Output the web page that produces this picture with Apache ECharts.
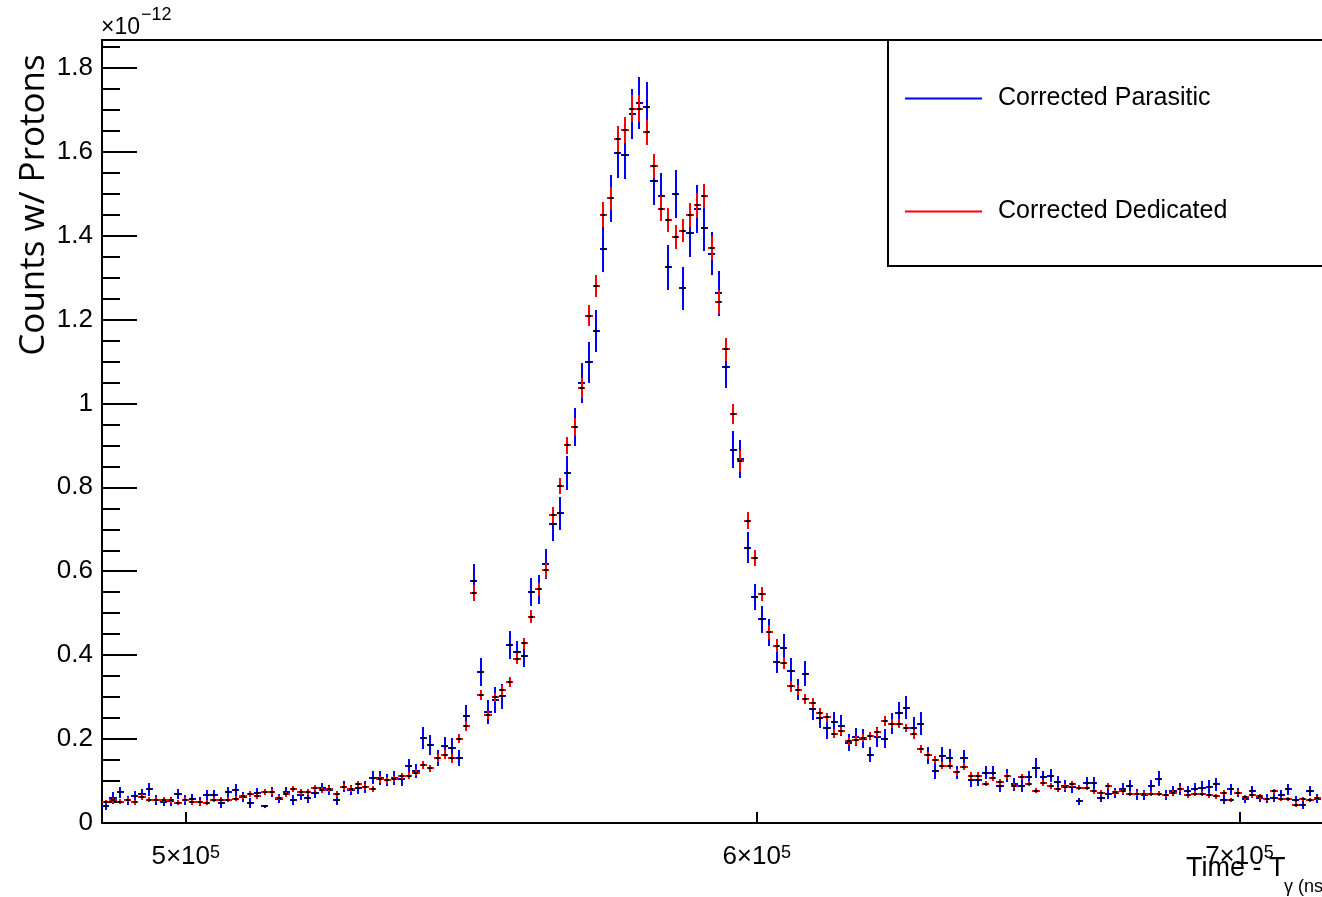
<!DOCTYPE html>
<html>
<head>
<meta charset="utf-8">
<script src="https://cdn.jsdelivr.net/npm/echarts@6/dist/echarts.min.js"></script>
<style>
  html, body { margin: 0; padding: 0; background: #fff; overflow: hidden; }
  #chart { width: 1322px; height: 897px; }
</style>
</head>
<body>
<div id="chart"></div>
<script>
// Histogram binning: logarithmic bins, 1000 per decade of time (ns)
const binWidthLog = 0.001;
const firstBinEdgeLog = 5.6874;

// Counts per proton, in units of 1e-12 (one entry per bin)
const parasitic = [
  0.040, 0.060, 0.073, 0.054, 0.064, 0.068, 0.080, 0.054, 0.050, 0.052,
  0.070, 0.055, 0.058, 0.051, 0.066, 0.066, 0.047, 0.073, 0.078, 0.062,
  0.048, 0.072, 0.040, 0.073, 0.058, 0.073, 0.055, 0.066, 0.060,
  0.072, 0.084, 0.078, 0.054, 0.086, 0.078, 0.084, 0.086, 0.108, 0.108,
  0.102, 0.108, 0.104, 0.135, 0.124, 0.203, 0.185, 0.155, 0.183, 0.179,
  0.154, 0.256,
  0.576, 0.360, 0.265, 0.293, 0.302, 0.424, 0.407, 0.397, 0.550, 0.557,
  0.618, 0.713, 0.738, 0.834, 0.944, 1.049, 1.098, 1.173, 1.367, 1.489,
  1.596,
  1.592, 1.690, 1.717, 1.706, 1.529, 1.494, 1.324, 1.499, 1.274, 1.406,
  1.464, 1.419, 1.357, 1.262, 1.087, 0.890, 0.868, 0.656, 0.538,
  0.485, 0.455, 0.384, 0.418, 0.363, 0.317, 0.356, 0.271, 0.251, 0.227,
  0.240, 0.232, 0.191, 0.205, 0.201, 0.163, 0.205, 0.201, 0.237, 0.263,
  0.275, 0.227, 0.237, 0.161, 0.124, 0.159, 0.155, 0.121, 0.155, 0.102,
  0.103, 0.120, 0.120, 0.089,
  0.113, 0.092, 0.088, 0.110, 0.132, 0.110, 0.113, 0.097, 0.088, 0.086,
  0.052, 0.096, 0.096, 0.060, 0.070, 0.072, 0.081, 0.089, 0.068, 0.066,
  0.089, 0.105, 0.066, 0.076, 0.081, 0.076, 0.081, 0.084, 0.086, 0.092,
  0.056, 0.080, 0.072, 0.057, 0.076, 0.060, 0.058, 0.060, 0.066, 0.080,
  0.054, 0.044, 0.076, 0.058
];
const parasiticErr = [
  0.010, 0.014, 0.013, 0.011, 0.012, 0.013, 0.016, 0.012, 0.010, 0.011,
  0.012, 0.011, 0.012, 0.011, 0.013, 0.013, 0.011, 0.013, 0.014, 0.011,
  0.012, 0.012, 0.004, 0.012, 0.011, 0.012, 0.012, 0.011, 0.012,
  0.012, 0.012, 0.012, 0.010, 0.013, 0.012, 0.014, 0.015, 0.016, 0.017,
  0.014, 0.017, 0.016, 0.017, 0.016, 0.026, 0.024, 0.020, 0.021, 0.023,
  0.019, 0.025,
  0.041, 0.033, 0.028, 0.030, 0.030, 0.033, 0.027, 0.026, 0.034, 0.035,
  0.036, 0.041, 0.039, 0.040, 0.045, 0.048, 0.049, 0.050, 0.053, 0.056,
  0.059,
  0.058, 0.060, 0.062, 0.061, 0.057, 0.055, 0.054, 0.058, 0.052, 0.057,
  0.057, 0.055, 0.052, 0.054, 0.050, 0.044, 0.045, 0.037, 0.031,
  0.032, 0.032, 0.026, 0.032, 0.030, 0.025, 0.030, 0.025, 0.024, 0.026,
  0.025, 0.025, 0.020, 0.022, 0.023, 0.018, 0.023, 0.023, 0.025, 0.025,
  0.027, 0.026, 0.028, 0.020, 0.019, 0.021, 0.021, 0.016, 0.020, 0.016,
  0.016, 0.016, 0.016, 0.014,
  0.015, 0.015, 0.015, 0.015, 0.024, 0.015, 0.015, 0.015, 0.015, 0.014,
  0.008, 0.014, 0.014, 0.011, 0.013, 0.012, 0.014, 0.014, 0.012, 0.012,
  0.014, 0.018, 0.012, 0.012, 0.014, 0.012, 0.015, 0.016, 0.016, 0.015,
  0.011, 0.014, 0.011, 0.010, 0.012, 0.010, 0.011, 0.010, 0.012, 0.013,
  0.011, 0.010, 0.012, 0.010
];
const dedicated = [
  0.050, 0.054, 0.051, 0.056, 0.050, 0.062, 0.056, 0.056, 0.056, 0.054,
  0.048, 0.056, 0.050, 0.050, 0.048, 0.056, 0.056, 0.056, 0.058, 0.064,
  0.070, 0.064, 0.073, 0.074, 0.060, 0.068, 0.081, 0.073, 0.074,
  0.084, 0.078, 0.080, 0.070, 0.086, 0.080, 0.092, 0.086, 0.082, 0.104,
  0.102, 0.105, 0.112, 0.113, 0.120, 0.138, 0.130, 0.155, 0.163, 0.154,
  0.201, 0.232,
  0.547, 0.305, 0.257, 0.300, 0.317, 0.336, 0.392, 0.428, 0.492, 0.557,
  0.602, 0.735, 0.803, 0.900, 0.944, 1.036, 1.209, 1.280, 1.450, 1.489,
  1.630,
  1.652, 1.702, 1.702, 1.646, 1.566, 1.464, 1.437, 1.397, 1.412, 1.449,
  1.472, 1.494, 1.371, 1.241, 1.129, 0.975, 0.863, 0.720, 0.632,
  0.545, 0.455, 0.423, 0.382, 0.326, 0.317, 0.296, 0.285, 0.263, 0.252,
  0.213, 0.219, 0.195, 0.197, 0.203, 0.207, 0.216, 0.243, 0.237, 0.237,
  0.227, 0.211, 0.177, 0.161, 0.151, 0.137, 0.137, 0.121, 0.134, 0.113,
  0.113, 0.094, 0.108, 0.097,
  0.112, 0.089, 0.109, 0.094, 0.077, 0.096, 0.088, 0.080, 0.086, 0.092,
  0.084, 0.084, 0.076, 0.072, 0.088, 0.073, 0.076, 0.070, 0.070, 0.070,
  0.070, 0.070, 0.066, 0.072, 0.081, 0.066, 0.070, 0.070, 0.066, 0.064,
  0.072, 0.054, 0.072, 0.061, 0.066, 0.064, 0.058, 0.076, 0.058, 0.058,
  0.044, 0.058, 0.054, 0.060
];
const dedicatedErr = [
  0.005, 0.006, 0.006, 0.006, 0.006, 0.006, 0.006, 0.006, 0.006, 0.006,
  0.006, 0.006, 0.006, 0.006, 0.006, 0.006, 0.006, 0.006, 0.006, 0.006,
  0.007, 0.006, 0.007, 0.007, 0.006, 0.007, 0.007, 0.007, 0.007,
  0.007, 0.007, 0.007, 0.007, 0.007, 0.007, 0.007, 0.007, 0.007, 0.008,
  0.008, 0.008, 0.008, 0.008, 0.009, 0.009, 0.009, 0.010, 0.010, 0.010,
  0.011, 0.012,
  0.019, 0.011, 0.010, 0.011, 0.011, 0.012, 0.013, 0.014, 0.015, 0.016,
  0.017, 0.019, 0.020, 0.021, 0.022, 0.024, 0.025, 0.026, 0.029, 0.027,
  0.032,
  0.031, 0.032, 0.032, 0.030, 0.028, 0.030, 0.028, 0.028, 0.028, 0.029,
  0.030, 0.028, 0.029, 0.029, 0.027, 0.024, 0.026, 0.020, 0.019,
  0.017, 0.016, 0.015, 0.014, 0.013, 0.013, 0.012, 0.012, 0.011, 0.011,
  0.010, 0.010, 0.010, 0.010, 0.010, 0.010, 0.010, 0.011, 0.011, 0.011,
  0.010, 0.010, 0.009, 0.009, 0.009, 0.008, 0.008, 0.008, 0.008, 0.008,
  0.008, 0.007, 0.007, 0.007,
  0.007, 0.007, 0.007, 0.007, 0.006, 0.007, 0.007, 0.006, 0.007, 0.007,
  0.006, 0.006, 0.006, 0.006, 0.007, 0.006, 0.006, 0.006, 0.006, 0.006,
  0.006, 0.006, 0.006, 0.006, 0.006, 0.006, 0.006, 0.006, 0.006, 0.006,
  0.006, 0.005, 0.006, 0.006, 0.006, 0.006, 0.005, 0.006, 0.005, 0.005,
  0.005, 0.005, 0.005, 0.005
];

// Axis ticks
const xTickTimes = [5e5, 6e5, 7e5];
const yMajorTicks = [0, 0.2, 0.4, 0.6, 0.8, 1, 1.2, 1.4, 1.6, 1.8];
const yMinorTicks = [0.05, 0.1, 0.15, 0.25, 0.3, 0.35, 0.45, 0.5, 0.55, 0.65, 0.7, 0.75,
  0.85, 0.9, 0.95, 1.05, 1.1, 1.15, 1.25, 1.3, 1.35, 1.45, 1.5, 1.55, 1.65, 1.7, 1.75, 1.85];

const seriesNames = ['Corrected Parasitic', 'Corrected Dedicated'];
const seriesColors = ['#0000ff', '#ff0000'];

// Axis ranges (x in log10 of time); the frame runs off the right edge of the page
const X_MIN_LOG = 5.68736;
const X_MAX_LOG = 5.85655;
const Y_MAX = 1.866;

const FONT = '"Liberation Sans", Arial, Helvetica, sans-serif';

function toBinData(values, errors) {
  return values.map((v, i) => [firstBinEdgeLog + (i + 0.5) * binWidthLog, v, errors[i]]);
}

// Each bin: horizontal bar across the bin, vertical error bar, small black marker.
// Coordinates are snapped so 2px strokes stay crisp.
function makeRenderItem(color) {
  return function (params, api) {
    const xc = api.value(0);
    const y = api.value(1);
    const e = api.value(2);
    const c = api.coord([xc, y]);
    const cx = Math.round(c[0]);
    const cy = Math.round(c[1]);
    const left = Math.round(api.coord([xc - binWidthLog / 2, y])[0]);
    const right = Math.round(api.coord([xc + binWidthLog / 2, y])[0]);
    const top = Math.round(api.coord([xc, y + e])[1]);
    const bottom = Math.round(api.coord([xc, y - e])[1]);
    return {
      type: 'group',
      children: [
        { type: 'line', shape: { x1: left, y1: cy, x2: right, y2: cy },
          style: { stroke: color, lineWidth: 2 } },
        { type: 'line', shape: { x1: cx, y1: top, x2: cx, y2: bottom },
          style: { stroke: color, lineWidth: 2 } },
        { type: 'rect', shape: { x: cx - 2, y: cy - 1, width: 4, height: 2 },
          style: { fill: '#000' } }
      ]
    };
  };
}

const chart = echarts.init(document.getElementById('chart'), null, { renderer: 'canvas' });

const xTickLog = xTickTimes.map(t => Math.log10(t));

chart.setOption({
  animation: false,
  backgroundColor: '#fff',
  grid: {
    left: 102, top: 40, right: 0, bottom: 74,
    show: false
  },
  xAxis: {
    type: 'value',
    min: X_MIN_LOG,
    max: X_MAX_LOG,
    axisLine: { show: true, onZero: false, lineStyle: { color: '#000', width: 2 } },
    axisTick: { show: true, inside: true, length: 11, customValues: xTickLog,
      lineStyle: { color: '#000', width: 2 } },
    axisLabel: {
      customValues: xTickLog,
      margin: 21,
      formatter: function (v) {
        const m = Math.round(Math.pow(10, v) / 1e5);
        return '{a|' + m + '×10}{b|5}';
      },
      rich: {
        a: { fontSize: 26, lineHeight: 26, fontFamily: FONT, color: '#000' },
        b: { fontSize: 18, lineHeight: 13, fontFamily: FONT, color: '#000', verticalAlign: 'top' }
      }
    },
    splitLine: { show: false }
  },
  yAxis: [
    {
      type: 'value',
      min: 0,
      max: Y_MAX,
      axisLine: { show: true, onZero: false, lineStyle: { color: '#000', width: 2 } },
      axisTick: { show: true, inside: true, length: 35, customValues: yMajorTicks,
        lineStyle: { color: '#000', width: 2 } },
      axisLabel: {
        customValues: yMajorTicks,
        margin: 9,
        fontSize: 26,
        fontFamily: FONT,
        color: '#000',
        formatter: v => String(Math.round(v * 10) / 10)
      },
      splitLine: { show: false }
    },
    {
      type: 'value',
      position: 'left',
      min: 0,
      max: Y_MAX,
      axisLine: { show: false },
      axisTick: { show: true, inside: true, length: 18, customValues: yMinorTicks,
        lineStyle: { color: '#000', width: 2 } },
      axisLabel: { show: false },
      splitLine: { show: false }
    }
  ],
  legend: {
    orient: 'vertical',
    left: 905,
    top: 86,
    padding: 0,
    itemWidth: 77,
    itemHeight: 2,
    itemGap: 88,
    icon: 'rect',
    selectedMode: false,
    data: seriesNames,
    textStyle: { fontSize: 25, lineHeight: 25, fontFamily: FONT, color: '#000', padding: [0, 0, 0, 11] }
  },
  graphic: [
    // top edge of the frame
    { type: 'line', shape: { x1: 101, y1: 40, x2: 1322, y2: 40 },
      style: { stroke: '#000', lineWidth: 2 } },
    // legend box
    { type: 'rect', z: 0, shape: { x: 888, y: 40, width: 480, height: 226 },
      style: { fill: '#fff', stroke: '#000', lineWidth: 2 } },
    { type: 'text', x: 101, y: 28,
      style: { text: '×10', fontSize: 23, fontFamily: FONT, fill: '#000', verticalAlign: 'middle', align: 'left' } },
    { type: 'text', x: 141, y: 15,
      style: { text: '−12', fontSize: 18, fontFamily: FONT, fill: '#000', verticalAlign: 'middle', align: 'left' } },
    { type: 'text', x: 34, y: 205, rotation: Math.PI / 2,
      style: { text: 'Counts w/ Protons', fontSize: 35, fontFamily: '"Open Sans", sans-serif', fill: '#000',
        verticalAlign: 'middle', align: 'center' } },
    { type: 'text', x: 1186, y: 869,
      style: { text: 'Time - T', fontSize: 27, fontFamily: FONT, fill: '#000', verticalAlign: 'middle', align: 'left' } },
    { type: 'text', x: 1284, y: 887,
      style: { text: 'γ (ns)', fontSize: 18, fontFamily: FONT, fill: '#000', verticalAlign: 'middle', align: 'left' } }
  ],
  series: [
    {
      name: seriesNames[0],
      type: 'custom',
      clip: true,
      itemStyle: { color: seriesColors[0] },
      renderItem: makeRenderItem(seriesColors[0]),
      encode: { x: 0, y: 1 },
      data: toBinData(parasitic, parasiticErr)
    },
    {
      name: seriesNames[1],
      type: 'custom',
      clip: true,
      itemStyle: { color: seriesColors[1] },
      renderItem: makeRenderItem(seriesColors[1]),
      encode: { x: 0, y: 1 },
      data: toBinData(dedicated, dedicatedErr)
    }
  ]
});
</script>
</body>
</html>
